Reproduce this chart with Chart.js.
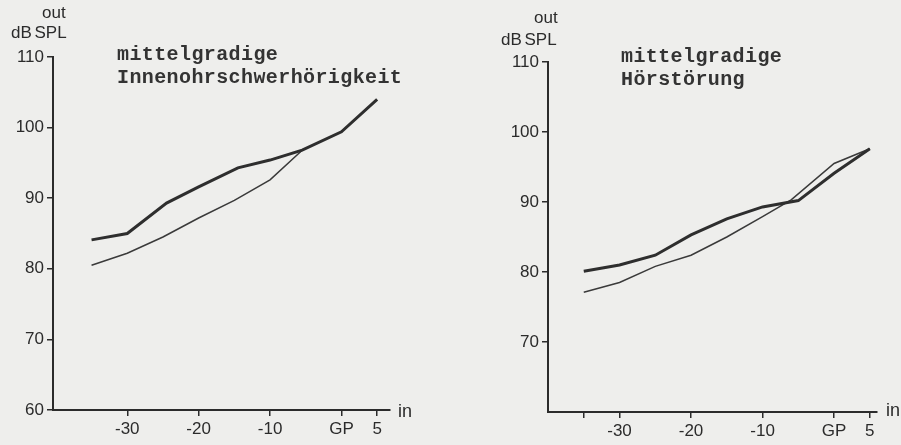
<!DOCTYPE html>
<html>
<head>
<meta charset="utf-8">
<script src="https://cdn.jsdelivr.net/npm/chart.js@4/dist/chart.umd.min.js"></script>
<style>
  body { margin: 0; background: #eeeeec; }
  #page { position: relative; width: 901px; height: 445px; overflow: hidden; background: #eeeeec; color: #2b2b2b; }
  .plot { position: absolute; top: 0; height: 445px; }
  .unit { position: absolute; font: 17px "Liberation Sans", Arial, sans-serif; line-height: 17px; white-space: nowrap; }
  .title { position: absolute; font: bold 20px "Liberation Mono", "Courier New", monospace; line-height: 23px; letter-spacing: 0.4px; white-space: pre; color: #333; }
  .inlab { position: absolute; font: 18px "Liberation Sans", Arial, sans-serif; line-height: 18px; }
</style>
</head>
<body>
<div id="page">
  <div class="plot" style="left:0;width:450px"><canvas id="left"></canvas></div>
  <div class="plot" style="left:450px;width:451px"><canvas id="right"></canvas></div>

  <div class="unit" style="left:42px;top:4px">out</div>
  <div class="unit" style="left:11px;top:24px;word-spacing:-2px">dB SPL</div>
  <div class="unit" style="left:534px;top:9px">out</div>
  <div class="unit" style="left:501px;top:31px;word-spacing:-2px">dB SPL</div>

  <div class="title" style="left:117px;top:43px">mittelgradige
Innenohrschwerhörigkeit</div>
  <div class="title" style="left:621px;top:45px">mittelgradige
Hörstörung</div>

  <div class="inlab" style="left:398px;top:402px">in</div>
  <div class="inlab" style="left:886px;top:401px">in</div>
</div>

<script>
// input level (dB relative to GP) and output level in dB SPL
const leftThickX = [-35, -30, -24.5, -20, -14.5, -10, -5.5, 0, 5];
const leftThickY = [84.1, 85, 89.3, 91.6, 94.3, 95.4, 96.8, 99.4, 104];
const leftThinX = [-35, -30, -25, -20, -15, -10, -5.5];
const leftThinY = [80.5, 82.2, 84.5, 87.2, 89.7, 92.6, 96.8];

const rightThickX = [-35, -30, -25, -20, -15, -10, -5, 0, 5];
const rightThickY = [80.1, 81, 82.4, 85.3, 87.6, 89.3, 90.2, 94.1, 97.6];
const rightThinX = [-35, -30, -25, -20, -15, -10, -6, 0, 5];
const rightThinY = [77.1, 78.5, 80.8, 82.4, 85, 87.9, 90.3, 95.5, 97.6];

const leftXTicks = [-30, -20, -10, 0, 5];
const rightXTicks = [-35, -30, -20, -10, 0, 5];
const leftYTicks = [60, 70, 80, 90, 100, 110];
const rightYTicks = [70, 80, 90, 100, 110];

const ink = '#2b2b2b';
const tickFont = { family: '"Liberation Sans", Arial, sans-serif', size: 17 };

const pts = (xs, ys) => xs.map((x, i) => ({ x: x, y: ys[i] }));

const xLabel = (v) => {
  if (v === 0) return 'GP';
  if (v === -35) return '';
  return String(v);
};

function makeChart(id, opts) {
  return new Chart(document.getElementById(id), {
    type: 'line',
    data: {
      datasets: [
        { data: pts(opts.thickX, opts.thickY), borderColor: '#2e2e2e', borderWidth: 3, pointRadius: 0, tension: 0 },
        { data: pts(opts.thinX, opts.thinY), borderColor: '#3a3a3a', borderWidth: 1.5, pointRadius: 0, tension: 0 }
      ]
    },
    options: {
      responsive: true,
      maintainAspectRatio: false,
      animation: false,
      events: [],
      layout: { padding: { top: opts.padTop, right: opts.padRight, left: 0, bottom: 0 } },
      plugins: { legend: { display: false }, tooltip: { enabled: false } },
      scales: {
        x: {
          type: 'linear',
          min: opts.xMin,
          max: opts.xMax,
          afterBuildTicks: (s) => { s.ticks = opts.xTicks.map(v => ({ value: v })); },
          afterFit: (s) => { s.height = opts.xHeight; },
          ticks: { callback: xLabel, color: ink, font: tickFont, padding: 3, maxRotation: 0, autoSkip: false },
          grid: { drawOnChartArea: false, tickLength: 6, color: ink, lineWidth: 1.5 },
          border: { color: ink, width: 2 }
        },
        y: {
          min: 60,
          max: 110,
          afterBuildTicks: (s) => { s.ticks = opts.yTicks.map(v => ({ value: v })); },
          afterFit: (s) => { s.width = opts.yWidth; },
          ticks: { color: ink, font: tickFont, padding: 3 },
          grid: { drawOnChartArea: false, tickLength: 6, color: ink, lineWidth: 1.5 },
          border: { color: ink, width: 2 }
        }
      }
    }
  });
}

makeChart('left', {
  thickX: leftThickX, thickY: leftThickY, thinX: leftThinX, thinY: leftThinY,
  xTicks: leftXTicks, yTicks: leftYTicks,
  xMin: -40.4, xMax: 6.8, padTop: 57, padRight: 60, xHeight: 35, yWidth: 53
});

makeChart('right', {
  thickX: rightThickX, thickY: rightThickY, thinX: rightThinX, thinY: rightThinY,
  xTicks: rightXTicks, yTicks: rightYTicks,
  xMin: -40, xMax: 6, padTop: 62, padRight: 24, xHeight: 33, yWidth: 98
});
</script>
</body>
</html>
